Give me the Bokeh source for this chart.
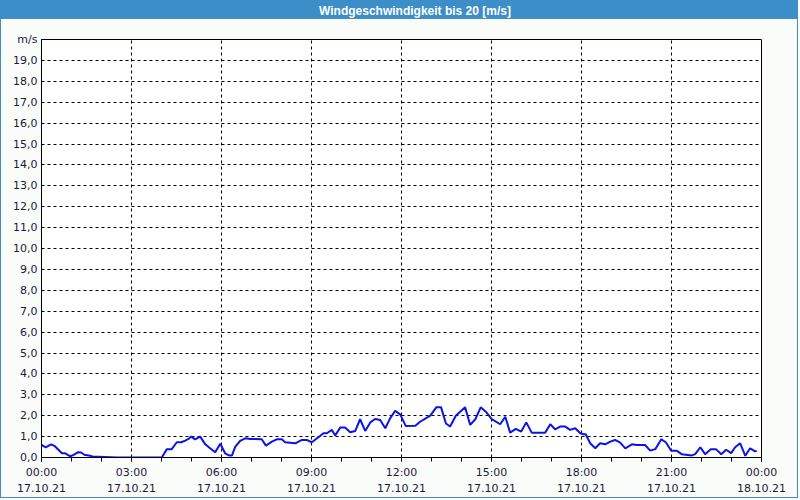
from bokeh.plotting import figure
from bokeh.models import FixedTicker, Range1d, Div
from bokeh.layouts import column
from bokeh.embed import file_html
from bokeh.resources import INLINE

# time in hours since 17.10.21 00:00, wind speed in m/s
hours = [0.0, 0.14, 0.32, 0.43, 0.68, 0.79, 0.96, 1.07, 1.21, 1.32, 1.43, 1.62, 1.70,
         2.5, 3.3, 4.01, 4.18, 4.34, 4.51, 4.66, 4.79, 4.90, 4.99, 5.12, 5.29, 5.46,
         5.62, 5.79, 5.96, 6.12, 6.25, 6.35, 6.46, 6.62, 6.79, 6.96, 7.34, 7.48, 7.68,
         7.84, 8.01, 8.12, 8.46, 8.68, 8.84, 9.01, 9.23, 9.40, 9.51, 9.68, 9.79, 9.96,
         10.12, 10.29, 10.46, 10.62, 10.79, 10.96, 11.12, 11.29, 11.46, 11.62, 11.79,
         11.96, 12.14, 12.46, 12.62, 12.96, 13.16, 13.32, 13.48, 13.62, 13.81, 14.12,
         14.29, 14.46, 14.64, 14.81, 15.01, 15.29, 15.46, 15.62, 15.81, 15.99, 16.16,
         16.34, 16.79, 16.96, 17.12, 17.29, 17.46, 17.62, 17.79, 17.96, 18.07, 18.14,
         18.29, 18.46, 18.62, 18.79, 18.96, 19.12, 19.29, 19.46, 19.68, 19.84, 20.12,
         20.29, 20.46, 20.66, 20.81, 20.99, 21.18, 21.34, 21.68, 21.79, 21.96, 22.12,
         22.31, 22.48, 22.66, 22.82, 22.99, 23.12, 23.29, 23.46, 23.62, 23.79, 23.84]
speed = [0.60, 0.49, 0.63, 0.56, 0.20, 0.20, 0.05, 0.13, 0.25, 0.24, 0.13, 0.08, 0.05,
         0.0, 0.0, 0.0, 0.40, 0.40, 0.73, 0.73, 0.81, 0.89, 1.00, 0.87, 1.00, 0.63,
         0.44, 0.25, 0.66, 0.20, 0.10, 0.10, 0.52, 0.79, 0.92, 0.89, 0.87, 0.57, 0.76,
         0.87, 0.87, 0.73, 0.68, 0.84, 0.84, 0.73, 0.97, 1.16, 1.16, 1.32, 1.05, 1.44,
         1.44, 1.21, 1.27, 1.83, 1.27, 1.68, 1.84, 1.79, 1.40, 1.87, 2.24,
         2.05, 1.51, 1.52, 1.71, 2.00, 2.40, 2.40, 1.63, 1.48, 2.00, 2.40,
         1.56, 1.83, 2.40, 2.19, 1.84, 1.59, 1.95, 1.19, 1.37, 1.24, 1.68,
         1.19, 1.19, 1.59, 1.35, 1.48, 1.48, 1.32, 1.40, 1.16, 1.11, 1.11,
         0.68, 0.44, 0.68, 0.63, 0.76, 0.84, 0.71, 0.44, 0.63, 0.60, 0.60,
         0.33, 0.40, 0.87, 0.73, 0.32, 0.32, 0.16, 0.10, 0.16, 0.49, 0.16,
         0.40, 0.40, 0.16, 0.37, 0.21, 0.49, 0.68, 0.08, 0.44, 0.29, 0.32]

x_ticks = [0, 3, 6, 9, 12, 15, 18, 21, 24]
x_tick_labels = ["00:00\n17.10.21", "03:00\n17.10.21", "06:00\n17.10.21",
                 "09:00\n17.10.21", "12:00\n17.10.21", "15:00\n17.10.21",
                 "18:00\n17.10.21", "21:00\n17.10.21", "00:00\n18.10.21"]
y_ticks = list(range(0, 21))
y_tick_labels = [f"{v},0" for v in range(0, 20)] + ["m/s"]

title_text = "Windgeschwindigkeit bis 20 [m/s]"
BLUE = "#3b8ec8"

# title bar (800x20 incl. border)
title = Div(text=f'<span style="position:relative;left:16px">{title_text}</span>',
            width=798, height=19,
            styles={"background-color": BLUE, "color": "white",
                    "font-weight": "bold", "font-family": "Liberation Sans",
                    "font-size": "12px", "text-align": "center",
                    "line-height": "20px", "border-top": f"1px solid {BLUE}",
                    "border-left": f"1px solid {BLUE}",
                    "border-right": f"1px solid {BLUE}",
                    "margin": "0", "padding": "0", "overflow": "hidden"})

# chart canvas 798x479 inside a 1px border -> 800x480 on the page
W, H = 798, 479
p = figure(width=W, height=H, output_backend="svg", toolbar_location=None,
           x_range=Range1d(0, 24), y_range=Range1d(0, 20),
           min_border_left=40, min_border_right=38, min_border_top=20,
           min_border_bottom=38, background_fill_color="white",
           border_fill_color="#fafcfa", outline_line_color="black",
           outline_line_width=1)
p.styles = {"border-left": f"1px solid {BLUE}", "border-right": f"1px solid {BLUE}",
            "border-bottom": f"1px solid {BLUE}"}

p.line(hours, speed, line_color="#0a14e6", line_width=2)

# axes
xa = p.xaxis[0]
xa.ticker = FixedTicker(ticks=x_ticks, minor_ticks=list(range(0, 25)))
xa.major_label_overrides = dict(zip(x_ticks, x_tick_labels))
xa.axis_line_color = "black"
xa.major_tick_out = 4
xa.major_tick_in = 0
xa.minor_tick_out = 4
xa.minor_tick_in = 0
xa.major_label_standoff = 4
xa.major_label_text_font = "DejaVu Sans"
xa.major_label_text_font_size = "11px"
xa.major_label_text_color = "#1a1a3a"
xa.major_label_text_line_height = 1.3

ya = p.yaxis[0]
ya.ticker = FixedTicker(ticks=y_ticks, minor_ticks=[])
ya.major_label_overrides = dict(zip(y_ticks, y_tick_labels))
ya.axis_line_color = "black"
ya.major_tick_out = 0
ya.major_tick_in = 0
ya.minor_tick_out = 0
ya.major_label_standoff = 4
ya.major_label_text_font = "DejaVu Sans"
ya.major_label_text_font_size = "11px"
ya.major_label_text_color = "#1a1a3a"

for g in (p.xgrid[0], p.ygrid[0]):
    g.grid_line_color = "black"
    g.grid_line_dash = "3 3"
    g.grid_line_width = 1
p.xgrid[0].ticker = FixedTicker(ticks=x_ticks)
p.ygrid[0].ticker = FixedTicker(ticks=y_ticks)

layout = column(title, p, spacing=0)

open("out.html", "w").write(file_html(layout, INLINE))
